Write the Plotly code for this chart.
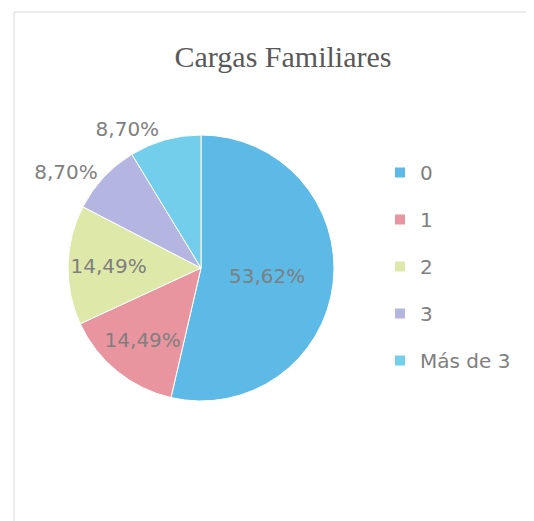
import plotly.graph_objects as go

# ── Data ──────────────────────────────────────────────────────────────────────
CATEGORIES = ["0", "1", "2", "3", "Más de 3"]
COUNTS = [37, 10, 10, 6, 6]
COLORS = ["#5DB9E6", "#E9959F", "#DEE9A9", "#B4B5E0", "#73CEEB"]
TEXT_POS = ["inside", "inside", "inside", "outside", "outside"]

W, H = 534, 521
OFF = 8  # page body margin, positions below are in page pixels
TEXT_GRAY = "#7F7F7F"


def px(x):
    return (x - OFF) / W


def py(y):
    return 1 - (y - OFF) / H


fig = go.Figure()

fig.add_trace(go.Pie(
    labels=CATEGORIES,
    values=COUNTS,
    sort=False,
    direction="clockwise",
    rotation=0,
    marker=dict(colors=COLORS, line=dict(color="white", width=1)),
    texttemplate="%{percent:.2%}",
    textposition=TEXT_POS,
    insidetextorientation="horizontal",
    textfont=dict(family="DejaVu Sans", size=20, color=TEXT_GRAY),
    domain=dict(x=[px(68), px(334)], y=[py(401), py(135)]),
    showlegend=False,
    hoverinfo="label+percent",
))

# legend entries as separate groups so the spacing can match the original
for cat, col in zip(CATEGORIES, COLORS):
    fig.add_trace(go.Scatter(
        x=[None], y=[None], mode="markers", name=cat,
        legendgroup=cat,
        marker=dict(symbol="square", size=10, color=col),
    ))

fig.update_layout(
    width=W, height=H,
    margin=dict(l=0, r=0, t=0, b=0),
    paper_bgcolor="white",
    plot_bgcolor="white",
    separators=",.",
    uniformtext=dict(minsize=20, mode="show"),
    title=dict(
        text="Cargas Familiares",
        x=px(283), y=py(56), xanchor="center", yanchor="middle",
        font=dict(family="Liberation Serif", size=30, color="#595959"),
    ),
    xaxis=dict(visible=False),
    yaxis=dict(visible=False),
    legend=dict(
        x=px(380), y=py(153), xanchor="left", yanchor="top",
        font=dict(family="DejaVu Sans", size=20, color=TEXT_GRAY),
        tracegroupgap=18, itemwidth=30, bgcolor="rgba(0,0,0,0)",
    ),
    shapes=[dict(
        type="rect", xref="paper", yref="paper",
        x0=px(14), x1=1.05, y0=-0.05, y1=py(12),
        line=dict(color="#D9D9D9", width=1),
    )],
)

fig.write_html("out.html")
